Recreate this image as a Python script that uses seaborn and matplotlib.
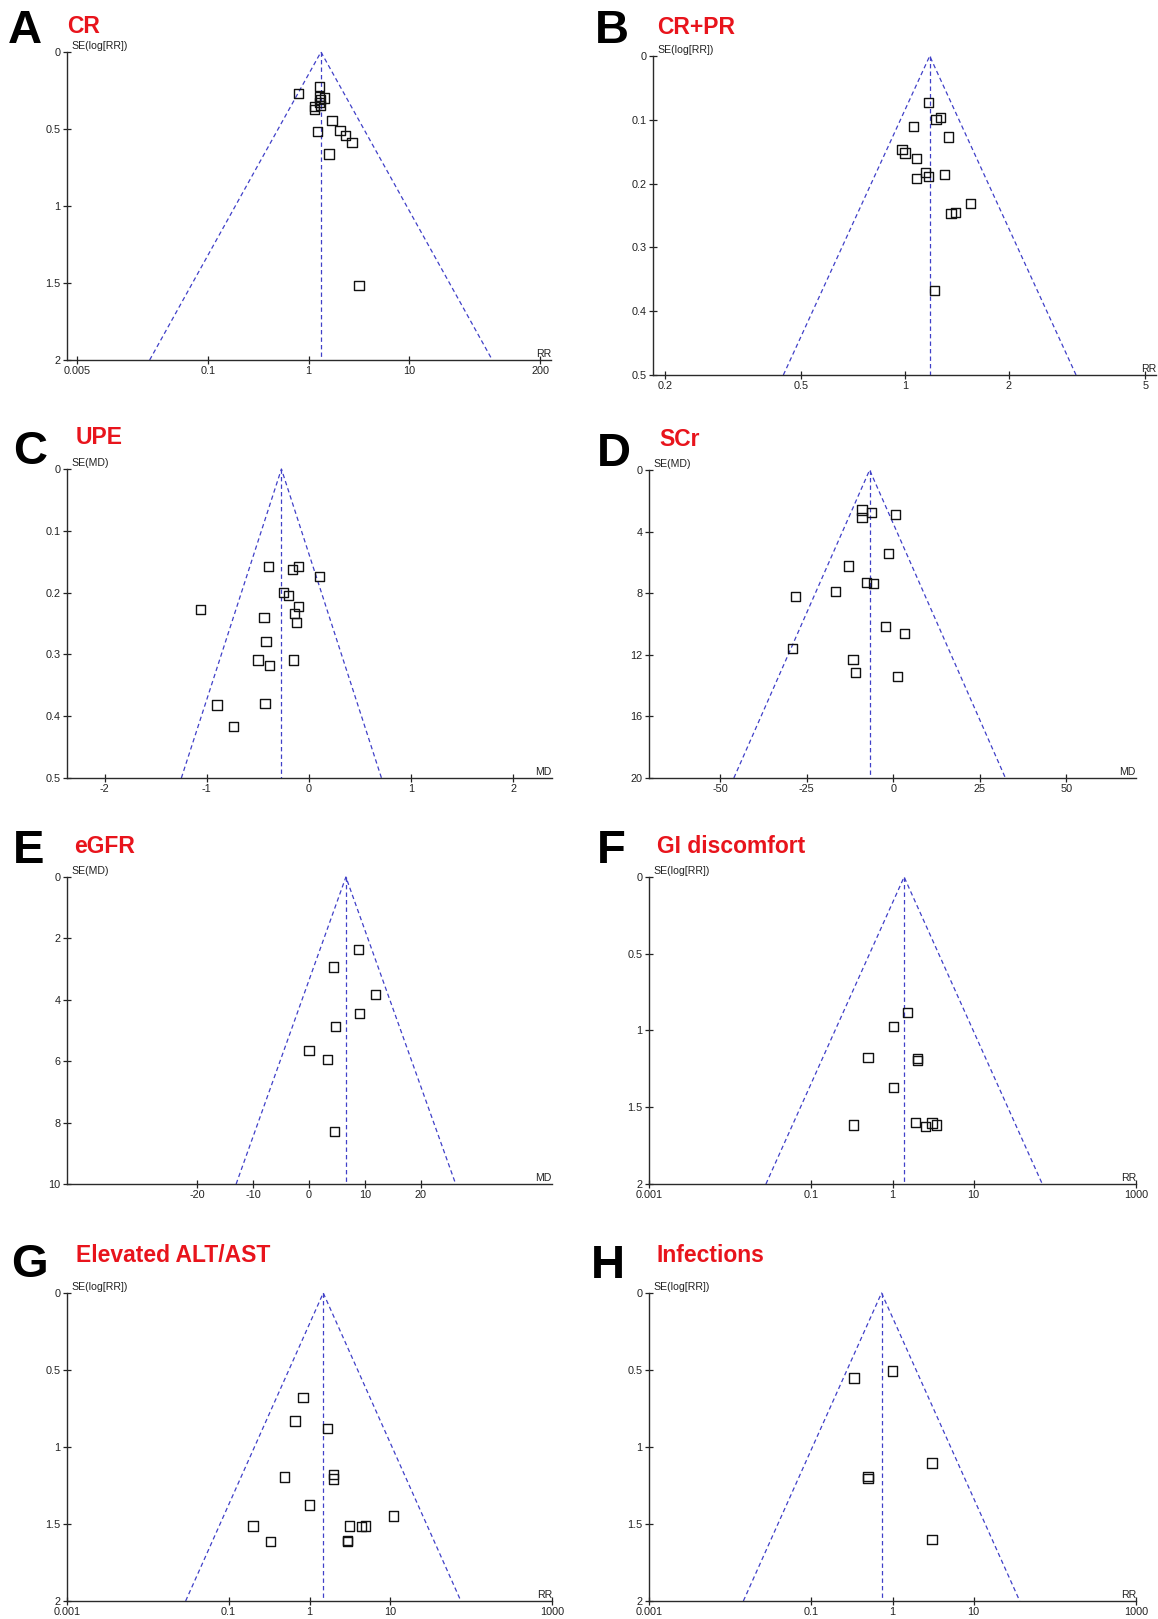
import numpy as np
import pandas as pd
import matplotlib
matplotlib.use('Agg')
import matplotlib.pyplot as plt
import seaborn as sns

# ---- data (effect, standard error) ----
# A: CR (RR)
a_rr = [0.80, 1.28, 1.28, 1.45, 1.31, 1.14, 1.14, 1.31, 1.28, 1.71, 1.22, 2.06, 2.32, 2.70, 1.60, 3.17]
a_se = [0.271, 0.225, 0.288, 0.299, 0.310, 0.353, 0.375, 0.349, 0.330, 0.444, 0.516, 0.509, 0.544, 0.589, 0.663, 1.517]
a_pooled = 1.33

# B: CR+PR (RR)
b_rr = [1.17, 1.23, 1.27, 1.06, 1.34, 0.98, 1.00, 1.08, 1.15, 1.17, 1.30, 1.08, 1.55, 1.40, 1.36, 1.22]
b_se = [0.073, 0.099, 0.096, 0.111, 0.127, 0.146, 0.152, 0.161, 0.183, 0.189, 0.186, 0.192, 0.231, 0.245, 0.247, 0.367]
b_pooled = 1.18

# C: UPE (MD)
c_md = [-0.40, -0.16, -0.10, 0.10, -0.25, -0.20, -1.06, -0.10, -0.44, -0.14, -0.12, -0.42,
        -0.50, -0.15, -0.39, -0.90, -0.43, -0.74]
c_se = [0.158, 0.162, 0.158, 0.174, 0.200, 0.205, 0.227, 0.223, 0.240, 0.234, 0.248, 0.279,
        0.309, 0.309, 0.318, 0.382, 0.380, 0.417]
c_pooled = -0.27

# D: SCr (MD)
d_md = [-9.0, -9.0, -6.3, 0.6, -1.4, -12.9, -7.6, -5.7, -16.7, -28.2, -2.3, 3.2, -29.0, -11.6, -10.9, 1.3]
d_se = [2.60, 3.06, 2.77, 2.90, 5.42, 6.24, 7.28, 7.35, 7.87, 8.19, 10.14, 10.64, 11.61, 12.29, 13.17, 13.39]
d_pooled = -6.8

# E: eGFR (MD)
e_md = [8.9, 4.4, 11.9, 9.0, 4.7, 0.0, 3.3, 4.5]
e_se = [2.36, 2.93, 3.82, 4.45, 4.88, 5.64, 5.95, 8.30]
e_pooled = 6.6

# F: GI discomfort (RR)
f_rr = [1.52, 1.02, 0.50, 2.04, 2.04, 1.02, 0.333, 1.91, 2.57, 3.07, 3.45]
f_se = [0.885, 0.972, 1.178, 1.182, 1.197, 1.371, 1.616, 1.600, 1.623, 1.603, 1.616]
f_pooled = 1.39

# G: Elevated ALT/AST (RR)
g_rr = [0.83, 0.66, 1.66, 1.97, 1.97, 0.49, 0.99, 10.9, 0.20, 3.10, 4.43, 4.88, 2.94, 2.94, 0.327]
g_se = [0.677, 0.831, 0.881, 1.177, 1.208, 1.195, 1.377, 1.448, 1.513, 1.513, 1.517, 1.513, 1.606, 1.613, 1.615]
g_pooled = 1.48

# H: Infections (RR)
h_rr = [0.336, 1.00, 3.07, 0.50, 0.50, 3.07]
h_se = [0.552, 0.506, 1.104, 1.190, 1.205, 1.602]
h_pooled = 0.733

# ---- style ----
sns.set_theme(style='white')
plt.rcParams['font.family'] = ['Liberation Sans', 'DejaVu Sans']
plt.rcParams['axes.linewidth'] = 1.0
plt.rcParams['axes.edgecolor'] = '#2a2a2a'

W, H = 1158, 1619
fig = plt.figure(figsize=(W / 100, H / 100), dpi=100)
BLUE = '#4040c8'
RED = '#e8141c'


def add_ax(x0, y0, x1, y1):
    # pixel box -> figure fraction
    return fig.add_axes([x0 / W, 1 - y1 / H, (x1 - x0) / W, (y1 - y0) / H])


def funnel(ax, eff, se, pooled, semax, log, xlim, xticks, xlabels, yticks, ylabels, ylab, xlab):
    df = pd.DataFrame({'eff': eff, 'se': se})
    if log:
        ax.set_xscale('log')
        lo = np.exp(np.log(pooled) - 1.96 * semax)
        hi = np.exp(np.log(pooled) + 1.96 * semax)
    else:
        lo = pooled - 1.96 * semax
        hi = pooled + 1.96 * semax
    ls = dict(color=BLUE, lw=0.9, ls=(0, (3.5, 2.5)), clip_on=False, zorder=1)
    ax.plot([lo, pooled, hi], [semax, 0, semax], **ls)
    ax.plot([pooled, pooled], [0, semax], **ls)
    sns.scatterplot(data=df, x='eff', y='se', marker='s', s=44, facecolor='none',
                    edgecolor='#111111', linewidth=1.0, ax=ax, zorder=3, clip_on=False)
    ax.set_xlim(*xlim)
    ax.set_ylim(semax, 0)
    ax.set_xticks(xticks)
    ax.set_xticklabels(xlabels)
    ax.minorticks_off()
    ax.set_yticks(yticks)
    ax.set_yticklabels(ylabels)
    ax.set_xlabel('')
    ax.set_ylabel('')
    for s in ['top', 'right']:
        ax.spines[s].set_visible(False)
    ax.tick_params(bottom=True, left=True, direction='inout', length=6, width=0.9,
                   colors='#222222', labelsize=7.8, pad=1.5)
    ax.annotate(ylab, xy=(0, 1), xycoords='axes fraction', xytext=(3, 1),
                textcoords='offset points', ha='left', va='bottom', fontsize=7.6, color='#222222')
    ax.annotate(xlab, xy=(1, 0), xycoords='axes fraction', xytext=(0, 1),
                textcoords='offset points', ha='right', va='bottom', fontsize=7.6, color='#222222')


def label(x, y, letter, tx, ty, title):
    fig.text(x / W, 1 - y / H, letter, fontsize=34, fontweight='bold', color='black',
             ha='left', va='baseline')
    fig.text(tx / W, 1 - ty / H, title, fontsize=16.5, fontweight='bold', color=RED,
             ha='left', va='baseline')


rr_y = [0, 0.5, 1, 1.5, 2]
rr_yl = ['0', '0.5', '1', '1.5', '2']
se_rr = 'SE(log[RR])'
se_md = 'SE(MD)'

# A
ax = add_ax(67, 52, 551, 360)
funnel(ax, a_rr, a_se, a_pooled, 2, True, (0.00398, 257), [0.005, 0.1, 1, 10, 200],
       ['0.005', '0.1', '1', '10', '200'], rr_y, rr_yl, se_rr, 'RR')
label(8, 43, 'A', 67, 33, 'CR')

# B
ax = add_ax(653, 56, 1156, 375)
funnel(ax, b_rr, b_se, b_pooled, 0.5, True, (0.185, 5.37), [0.2, 0.5, 1, 2, 5],
       ['0.2', '0.5', '1', '2', '5'], [0, 0.1, 0.2, 0.3, 0.4, 0.5],
       ['0', '0.1', '0.2', '0.3', '0.4', '0.5'], se_rr, 'RR')
label(595, 43, 'B', 657, 34, 'CR+PR')

# C
ax = add_ax(67, 469, 552, 778)
funnel(ax, c_md, c_se, c_pooled, 0.5, False, (-2.37, 2.38), [-2, -1, 0, 1, 2],
       ['-2', '-1', '0', '1', '2'], [0, 0.1, 0.2, 0.3, 0.4, 0.5],
       ['0', '0.1', '0.2', '0.3', '0.4', '0.5'], se_md, 'MD')
label(13, 464, 'C', 76, 444, 'UPE')

# D
ax = add_ax(649, 470, 1136, 778)
funnel(ax, d_md, d_se, d_pooled, 20, False, (-70.5, 70.1), [-50, -25, 0, 25, 50],
       ['-50', '-25', '0', '25', '50'], [0, 4, 8, 12, 16, 20],
       ['0', '4', '8', '12', '16', '20'], se_md, 'MD')
label(597, 466, 'D', 659, 446, 'SCr')

# E
ax = add_ax(67, 877, 552, 1184)
funnel(ax, e_md, e_se, e_pooled, 10, False, (-43.2, 43.4), [-20, -10, 0, 10, 20],
       ['-20', '-10', '0', '10', '20'], [0, 2, 4, 6, 8, 10],
       ['0', '2', '4', '6', '8', '10'], se_md, 'MD')
label(13, 863, 'E', 74, 853, 'eGFR')

# F
ax = add_ax(649, 877, 1136, 1184)
funnel(ax, f_rr, f_se, f_pooled, 2, True, (0.001, 1000), [0.001, 0.1, 1, 10, 1000],
       ['0.001', '0.1', '1', '10', '1000'], rr_y, rr_yl, se_rr, 'RR')
label(597, 863, 'F', 657, 853, 'GI discomfort')

# G
ax = add_ax(67, 1293, 552, 1601)
funnel(ax, g_rr, g_se, g_pooled, 2, True, (0.001, 1000), [0.001, 0.1, 1, 10, 1000],
       ['0.001', '0.1', '1', '10', '1000'], rr_y, rr_yl, se_rr, 'RR')
label(11, 1277, 'G', 76, 1262, 'Elevated ALT/AST')

# H
ax = add_ax(649, 1293, 1136, 1601)
funnel(ax, h_rr, h_se, h_pooled, 2, True, (0.001, 1000), [0.001, 0.1, 1, 10, 1000],
       ['0.001', '0.1', '1', '10', '1000'], rr_y, rr_yl, se_rr, 'RR')
label(591, 1278, 'H', 656, 1262, 'Infections')

fig.savefig('out.png', dpi=100, facecolor='white')
